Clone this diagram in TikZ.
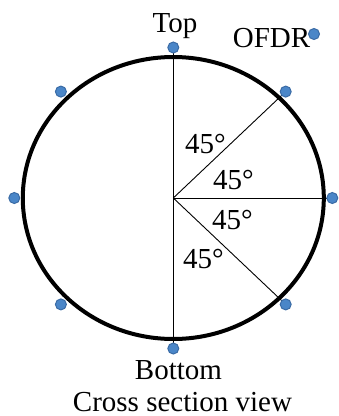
\documentclass[tikz,border=0pt]{standalone}
\usepackage{fontspec}
\setmainfont{Liberation Serif}
\usepackage{tikz}
\usetikzlibrary{positioning}

\definecolor{dotfill}{HTML}{4A86C8}
\definecolor{dotedge}{HTML}{3A6BA5}

\begin{document}
\begin{tikzpicture}[
  x=1pt, y=-1pt,
  font=\fontsize{29}{33}\selectfont,
  sensor/.style={circle, inner sep=0pt, minimum size=11pt, fill=dotfill, draw=dotedge, line width=1pt},
  lbl/.style={inner sep=0pt},
  pipe/.style={line width=4pt},
  radial/.style={line width=0.9pt}
]
\useasboundingbox (0,0) rectangle (339,416);

% Pipe wall
\coordinate (c) at (173.3,198);
\draw[pipe] (c) ellipse [x radius=150.5, y radius=141];

% Sensor positions
\coordinate (ptop) at (173.3,47.5);
\coordinate (pur) at (285.7,91.6);
\coordinate (pr) at (332.3,198);
\coordinate (plr) at (285.7,304.4);
\coordinate (pbot) at (173.3,348.5);
\coordinate (pll) at (60.9,304.4);
\coordinate (pl) at (14.3,198);
\coordinate (pul) at (60.9,91.6);

% Radial lines
\draw[radial] (ptop) -- (pbot);
\draw[radial] (c) -- (pur);
\draw[radial] (c) -- (pr);
\draw[radial] (c) -- (plr);

% Sensors
\node[sensor] (stop) at (ptop) {};
\node[sensor] (sur) at (pur) {};
\node[sensor] (sr) at (pr) {};
\node[sensor] (slr) at (plr) {};
\node[sensor] (sbot) at (pbot) {};
\node[sensor] (sll) at (pll) {};
\node[sensor] (sl) at (pl) {};
\node[sensor] (sul) at (pul) {};
\node[sensor] (sofdr) at (314,34) {};

% Angle labels
\node[lbl, anchor=base west] (a1) at (185,153) {45°};
\node[lbl, anchor=base west] (a2) at (213,189) {45°};
\node[lbl, anchor=base west] (a3) at (212,229) {45°};
\node[lbl, anchor=base west] (a4) at (183,268) {45°};

% Texts
\node[lbl, anchor=base] (ttop) at (175,32) {Top};
\node[lbl, anchor=base] (tofdr) at (271.5,47) {OFDR};
\node[lbl, anchor=base] (tbot) at (178.5,379) {Bottom};
\node[lbl, anchor=base] (tview) at (182.5,411) {Cross section view};
\end{tikzpicture}
\end{document}
